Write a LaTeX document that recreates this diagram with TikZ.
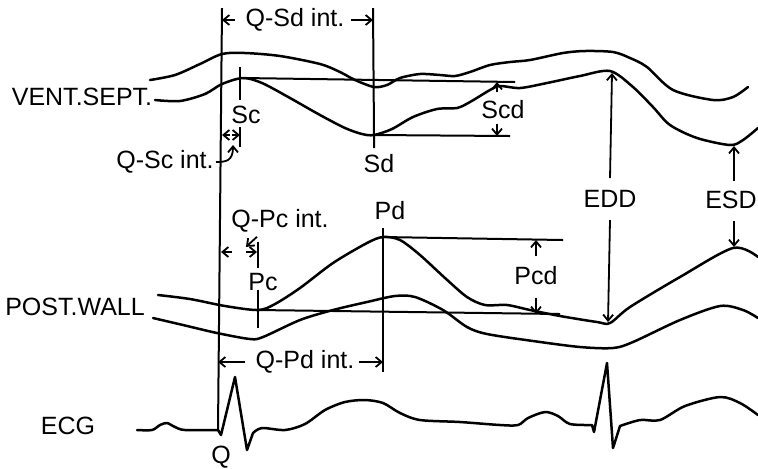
\documentclass[tikz,border=0pt]{standalone}
\usepackage{fontspec}
\setmainfont{Liberation Sans}
\usetikzlibrary{arrows.meta,calc,positioning}
\tikzset{
  trace/.style={
    line width=1.25pt,
    line join=round,
    line cap=round
  },
  guide/.style={
    line width=1pt
  },
  dim/.style={
    line width=0.9pt,
    -{Straight Barb[length=3pt,width=5pt]}
  },
  lbl/.style={
    inner sep=0pt,
    font=\fontsize{12.5}{14}\selectfont
  },
  every picture/.style={
    x=0.5pt,
    y=-0.5pt
  }
}

\begin{document}
\begin{tikzpicture}
    \useasboundingbox (0,0) rectangle (758,468);
    % reference points
    \coordinate (Qtop) at (222,8);
    \coordinate (Qbot) at (218,430);
    \coordinate (Sdtop) at (373,8);
    \coordinate (Sc) at (243,78);
    \coordinate (Sd) at (374,135);
    \coordinate (Pc) at (258,310);
    \coordinate (Pd) at (383,237);
    \coordinate (ScEnd) at (515,82);
    \coordinate (SdEnd) at (510,136);
    \coordinate (PdEnd) at (563,240);
    \coordinate (PcEnd) at (560,314);
    \coordinate (EDDtop) at (612,73);
    \coordinate (EDDbot) at (608,322);
    \coordinate (ESDtop) at (734,146);
    \coordinate (ESDbot) at (734,247);
    \coordinate (qscL) at (222,135);
    \coordinate (qscR) at (240,135);
    \coordinate (qscpt) at (233,145);
    \coordinate (qpcL) at (221,252);
    \coordinate (qpcR) at (257,252);

    % labels
    \node[lbl] (vs) at (82,97) {VENT.SEPT.};
    \node[lbl] (pw) at (75,307) {POST.WALL};
    \node[lbl] (ecg) at (68,426) {ECG};
    \node[lbl] (q) at (221,457) {Q};
    \node[lbl] (sc) at (246,115) {Sc};
    \node[lbl] (sd) at (379,164) {Sd};
    \node[lbl] (pc) at (263,282) {Pc};
    \node[lbl] (pd) at (390,211) {Pd};
    \node[lbl] (scd) at (503,110) {Scd};
    \node[lbl] (pcd) at (536,276) {Pcd};
    \node[lbl] (edd) at (610,199) {EDD};
    \node[lbl] (esd) at (731,200) {ESD};
    \node[lbl] (qsd) at (295,20) {Q-Sd int.};
    \node[lbl,anchor=east] (qsc) at (214,162) {Q-Sc int.};
    \node[lbl] (qpc) at (280,221) {Q-Pc int.};
    \node[lbl] (qpd) at (305,362) {Q-Pd int.};

    % ventricular septum
    \draw[trace] plot[smooth,tension=0.5] coordinates {(150,80) (175,75) (200,64) (222,54) (245,53) (280,56) (320,64) (340,72) (355,80) (374,87) (387,85) (400,78) (420,74) (440,75) (455,76) (470,72) (490,65) (510,62) (530,60) (563,53) (585,51) (613,52) (630,58) (647,67) (673,90) (713,100) (733,97) (748,87)};
    \draw[trace] plot[smooth,tension=0.5] coordinates {(155,100) (180,101) (205,94) (222,84) (Sc) (262,83) (290,98) (320,115) (345,128) (362,134) (Sd) (392,129) (413,117) (437,109) (457,108) (470,102) (490,90) (500,86) (520,88) (547,83) (580,76) (610,71) (633,87) (653,107) (670,125) (697,138) (730,145) (743,140) (758,128)};
    % posterior wall
    \draw[trace] plot[smooth,tension=0.5] coordinates {(158,295) (190,299) (225,306) (Pc) (275,304) (300,288) (333,263) (367,243) (Pd) (400,240) (420,255) (445,278) (467,297) (485,305) (507,305) (530,310) (560,316) (597,322) (610,323) (630,307) (680,277) (733,248) (758,257)};
    \draw[trace] plot[smooth,tension=0.5] coordinates {(153,318) (183,325) (217,333) (250,339) (263,337) (300,320) (333,310) (367,302) (395,296) (415,297) (443,310) (467,327) (487,334) (533,341) (580,347) (613,348) (633,342) (680,320) (720,306) (743,310) (758,318)};
    % ecg
    \draw[trace] plot[smooth,tension=0.5] coordinates {(137,430) (152,430) (160,425) (167,423) (175,427) (185,430) (Qbot)}
        -- (221,435) -- (235,377) -- (247,450) --
        plot[smooth,tension=0.5] coordinates {(253,433) (262,428) (285,430) (305,424) (325,410) (345,402) (365,400) (383,403) (400,413) (420,420) (460,422) (500,425) (518,425) (528,418) (545,412) (558,416) (570,424) (592,425)}
        -- (594,432) -- (607,363) -- (613,448) --
        plot[smooth,tension=0.5] coordinates {(620,426) (640,420) (660,420) (685,406) (720,397) (740,403) (758,415)};

    % marker lines
    \draw[guide] (Qtop) -- (Qbot);
    \draw[guide] (Sdtop) -- (Sd) -- ++(0,13);
    \draw[guide] (Sc) ++(-3,-11) -- ++(0,33);
    \draw[guide] (qscR) ++(0,-8) -- ++(0,20);
    \draw[guide] (Pc) ++(0,-68) -- ++(0,26);
    \draw[guide] (Pc) ++(0,-20) -- ++(0,38);
    \draw[guide] (Pd) ++(0,-9) -- (Pd |- qpd) -- ++(0,10);
    \draw[guide] (Sc) -- (ScEnd);
    \draw[guide] (Sd) -- (SdEnd);
    \draw[guide] (Pd) -- (PdEnd);
    \draw[guide] (Pc) -- (PcEnd);

    % intervals
    \draw[dim] ([xshift=-5pt]qsd.west) -- (Qtop |- qsd);
    \draw[dim] ([xshift=3pt]qsd.east) -- (Sdtop |- qsd);
    \draw[dim] ([xshift=-5pt]qpd.west) -- (Qbot |- qpd);
    \draw[dim] ([xshift=2pt]qpd.east) -- (Pd |- qpd);
    \draw[dim] ($(qscL)+(8,0)$) -- (qscL);
    \draw[dim] ($(qscR)+(-8,0)$) -- (qscR);
    \draw[dim] ([xshift=1pt]qsc.east) .. controls +(10,0) and +(0,16) .. (qscpt);
    \draw[dim] ($(qpcL)+(11,0)$) -- (qpcL);
    \draw[dim] ($(qpcR)+(-11,0)$) -- (qpcR);
    \draw[dim] ([xshift=13pt,yshift=-2pt]qpc.south west) -- ++(-11,10);

    % amplitudes
    \draw[dim] ([xshift=-3pt,yshift=4pt]scd.north) -- ([xshift=-3pt]scd.north |- ScEnd);
    \draw[dim] ([xshift=-3pt,yshift=-2pt]scd.south) -- ([xshift=-3pt]scd.south |- SdEnd);
    \draw[dim] ([yshift=5pt]pcd.north) -- (pcd.north |- PdEnd);
    \draw[dim] ([yshift=-6pt]pcd.south) -- (pcd.south |- PcEnd);
    \draw[dim] ([yshift=6pt]edd.north) -- (EDDtop);
    \draw[dim] ([yshift=-6pt]edd.south) -- (EDDbot);
    \draw[dim] ([xshift=1.5pt,yshift=5pt]esd.north) -- (ESDtop);
    \draw[dim] ([xshift=1.5pt,yshift=-6pt]esd.south) -- (ESDbot);
\end{tikzpicture}
\end{document}
